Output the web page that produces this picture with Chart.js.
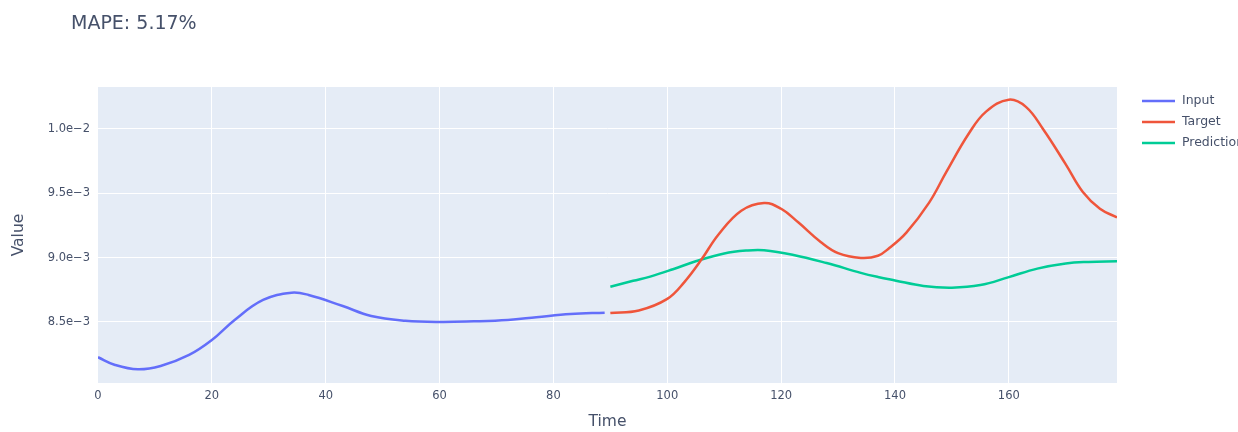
<!DOCTYPE html>
<html>
<head>
<meta charset="utf-8">
<script src="https://cdn.jsdelivr.net/npm/chart.js@4.4.1/dist/chart.umd.min.js"></script>
<style>
  html, body { margin: 0; padding: 0; background: #ffffff; }
  canvas { display: block; }
</style>
</head>
<body>
<canvas id="chart" width="1238" height="432"></canvas>
<script>
// ---- data ----
const chartTitle = 'MAPE: 5.17%';
const seriesNames = ['Input', 'Target', 'Prediction'];
const seriesColors = ['#636efa', '#ef553b', '#00cc96'];

const inputTime  = [0, 3, 7, 11, 16, 20, 24, 29, 34, 37, 43, 48, 54, 60, 66, 72, 77, 83, 89];
const inputValue = [8.226e-3, 8.166e-3, 8.132e-3, 8.158e-3, 8.244e-3, 8.360e-3, 8.516e-3, 8.671e-3, 8.728e-3, 8.710e-3,
                    8.624e-3, 8.547e-3, 8.510e-3, 8.500e-3, 8.505e-3, 8.516e-3, 8.537e-3, 8.562e-3, 8.572e-3];

const targetTime  = [90, 95, 100, 103, 106, 109, 113, 117, 120, 123, 127, 130, 134, 137, 139, 142, 146, 149, 153, 156,
                     160, 163, 166, 170, 173, 176, 179];
const targetValue = [8.570e-3, 8.590e-3, 8.680e-3, 8.810e-3, 8.985e-3, 9.180e-3, 9.365e-3, 9.425e-3, 9.380e-3, 9.275e-3,
                     9.120e-3, 9.035e-3, 8.998e-3, 9.015e-3, 9.075e-3, 9.195e-3, 9.428e-3, 9.665e-3, 9.967e-3, 10.135e-3,
                     10.228e-3, 10.172e-3, 10.000e-3, 9.725e-3, 9.510e-3, 9.380e-3, 9.313e-3];

const predTime  = [90, 94, 97, 101, 105, 110, 114, 117, 122, 128, 134, 137, 140, 145, 150, 155, 160, 165, 170, 174, 179];
const predValue = [8.774e-3, 8.820e-3, 8.853e-3, 8.910e-3, 8.972e-3, 9.033e-3, 9.056e-3, 9.058e-3, 9.023e-3, 8.958e-3,
                   8.882e-3, 8.850e-3, 8.823e-3, 8.780e-3, 8.767e-3, 8.787e-3, 8.849e-3, 8.915e-3, 8.955e-3, 8.967e-3, 8.972e-3];

const xTicks = [0, 20, 40, 60, 80, 100, 120, 140, 160];
const yTicks = [8.5e-3, 9.0e-3, 9.5e-3, 1.0e-2];

// ---- helpers ----
const toPoints = (ts, vs) => ts.map((t, i) => ({ x: t, y: vs[i] }));
const sciLabel = v => v.toExponential(1).replace('-', '\u2212');

const FONT = 'DejaVu Sans';
const TEXT = '#46516a';
Chart.defaults.font.family = FONT;
Chart.defaults.color = TEXT;

// plot background, title and legend
const frame = {
  id: 'frame',
  beforeDraw(chart) {
    const { ctx, chartArea: a } = chart;
    ctx.save();
    ctx.fillStyle = '#ffffff';
    ctx.fillRect(0, 0, chart.width, chart.height);
    ctx.fillStyle = '#e5ecf6';
    ctx.fillRect(a.left, a.top, a.right - a.left, a.bottom - a.top);
    ctx.restore();
  },
  afterDraw(chart) {
    const { ctx } = chart;
    ctx.save();
    ctx.fillStyle = TEXT;
    ctx.font = '19px "' + FONT + '"';
    ctx.textBaseline = 'alphabetic';
    ctx.textAlign = 'left';
    ctx.fillText(chartTitle, 71, 29);

    ctx.font = '12.5px "' + FONT + '"';
    ctx.textBaseline = 'middle';
    chart.data.datasets.forEach((ds, i) => {
      const y = 101 + i * 21;
      ctx.strokeStyle = ds.borderColor;
      ctx.lineWidth = 2.5;
      ctx.beginPath();
      ctx.moveTo(1142, y);
      ctx.lineTo(1175, y);
      ctx.stroke();
      ctx.fillStyle = TEXT;
      ctx.fillText(ds.label, 1182, y);
    });
    ctx.restore();
  }
};

const mkSet = (i, ts, vs) => ({
  label: seriesNames[i],
  data: toPoints(ts, vs),
  borderColor: seriesColors[i],
  backgroundColor: seriesColors[i],
  borderWidth: 2.5,
  pointRadius: 0,
  tension: 0.4,
  fill: false
});

new Chart(document.getElementById('chart'), {
  type: 'line',
  data: {
    datasets: [
      mkSet(0, inputTime, inputValue),
      mkSet(1, targetTime, targetValue),
      mkSet(2, predTime, predValue)
    ]
  },
  options: {
    responsive: false,
    animation: false,
    layout: { padding: { top: 87, right: 121, left: 0, bottom: 0 } },
    plugins: {
      legend: { display: false },
      title: { display: false },
      tooltip: { enabled: false }
    },
    scales: {
      x: {
        type: 'linear',
        min: 0,
        max: 179,
        afterBuildTicks: s => { s.ticks = xTicks.map(v => ({ value: v })); },
        afterFit: s => { s.height = 49; },
        grid: {
          color: c => (c.tick && c.tick.value === 0 ? 'rgba(0,0,0,0)' : '#ffffff'),
          lineWidth: 1,
          drawTicks: false
        },
        border: { display: false },
        ticks: { padding: 6, font: { size: 11.5 }, color: TEXT, maxRotation: 0 },
        title: { display: true, text: 'Time', font: { size: 15.5 }, color: TEXT, padding: { top: 0, bottom: 1 } }
      },
      y: {
        type: 'linear',
        min: 0.0080259,
        max: 0.0103264,
        afterBuildTicks: s => { s.ticks = yTicks.map(v => ({ value: v })); },
        afterFit: s => { s.width = 98; },
        grid: { color: '#ffffff', lineWidth: 1, drawTicks: false },
        border: { display: false },
        ticks: { padding: 8, font: { size: 11.5 }, color: TEXT, callback: v => sciLabel(v) },
        title: { display: true, text: 'Value', font: { size: 15.5 }, color: TEXT, padding: { top: 10, bottom: 0 } }
      }
    }
  },
  plugins: [frame]
});
</script>
</body>
</html>
